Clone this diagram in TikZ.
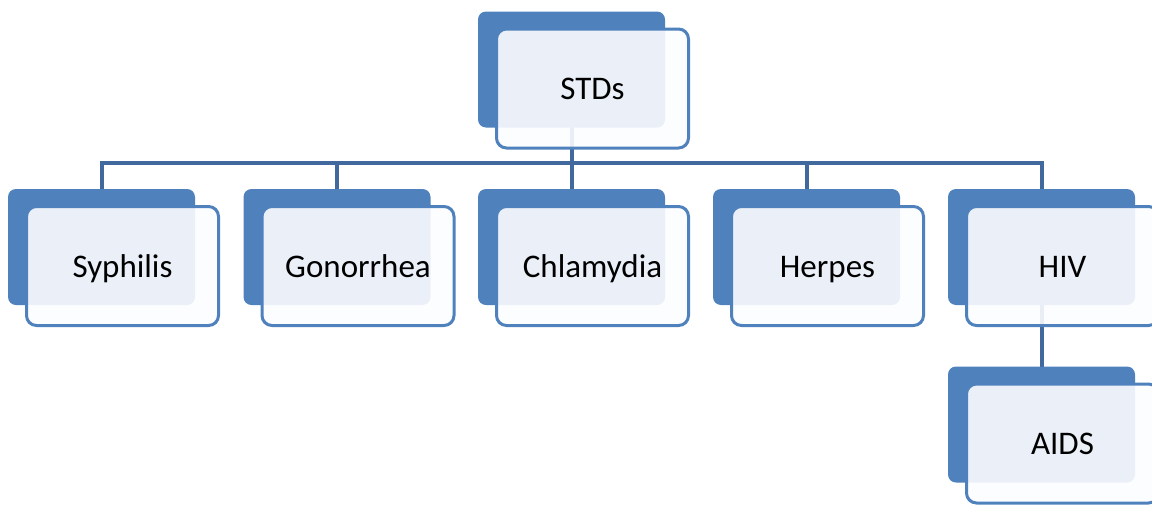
\documentclass[tikz,border=0pt]{standalone}
\usepackage{fontspec}
\setmainfont{Carlito}
\usetikzlibrary{backgrounds}

\definecolor{backblue}{HTML}{4F81BD}
\definecolor{linkblue}{HTML}{41699E}
\definecolor{paleblue}{HTML}{FCFDFF}

\tikzset{
    backbox/.style={rectangle, rounded corners=8pt, fill=backblue,
        minimum width=187pt, minimum height=116pt, inner sep=0pt},
    frontbox/.style={rectangle, rounded corners=10pt, draw=backblue, line width=3pt,
        fill=paleblue, fill opacity=0.9, text opacity=1, draw opacity=1,
        minimum width=192pt, minimum height=119pt, inner sep=0pt,
        text height=25pt, text depth=3pt,
        font=\fontsize{33}{38}\selectfont},
    link/.style={draw=linkblue, line width=4pt}
}

\begin{document}
\begin{tikzpicture}[x=1pt, y=-1pt]
    \clip (0,0) rectangle (1152,504);
    % top of the tree
    \node[backbox] (stds) at (571.5, 69.5) {};
    \node[frontbox] (stdsf) at (592.5, 88.5) {STDs};
    % the five diseases
    \node[backbox] (syph) at (101.5, 247) {};
    \node[frontbox] (syphf) at (122.5, 266) {Syphilis};
    \node[backbox] (gono) at (337, 247) {};
    \node[frontbox] (gonof) at (358, 266) {Gonorrhea};
    \node[backbox] (chla) at (571.5, 247) {};
    \node[frontbox] (chlaf) at (592.5, 266) {Chlamydia};
    \node[backbox] (herp) at (806.5, 247) {};
    \node[frontbox] (herpf) at (827.5, 266) {Herpes};
    \node[backbox] (hiv) at (1041.5, 247) {};
    \node[frontbox] (hivf) at (1062.5, 266) {HIV};
    % below HIV
    \node[backbox] (aids) at (1041.5, 424.5) {};
    \node[frontbox] (aidsf) at (1062.5, 443.5) {AIDS};
    \begin{pgfonlayer}{background}
        \coordinate (bus) at (571.5, 163);
        \draw[link] (stds.center) -- (bus);
        \draw[link] (bus) -| (syph.center);
        \draw[link] (bus) -| (gono.center);
        \draw[link] (bus) -- (chla.center);
        \draw[link] (bus) -| (herp.center);
        \draw[link] (bus) -| (hiv.center);
        \draw[link] (hiv.center) -- (aids.center);
    \end{pgfonlayer}
\end{tikzpicture}
\end{document}
